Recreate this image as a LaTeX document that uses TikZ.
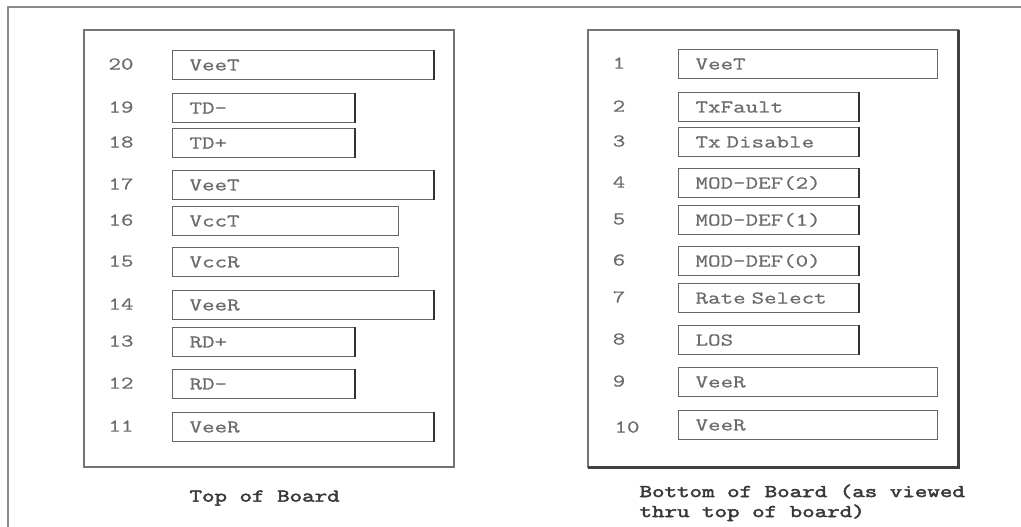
\documentclass[tikz,border=0pt]{standalone}
\usepackage{fontspec}
\setmonofont{Latin Modern Mono}[FakeStretch=1.35, FakeBold=0.7]
\newfontfamily\capfont{Latin Modern Mono}[FakeStretch=1.35, FakeBold=2.6]
\begin{document}
\begin{tikzpicture}[x=1pt,y=-1pt,
  txt/.style={font=\ttfamily\fontsize{18}{20}\selectfont, text=black!58},
  pinbox/.style={txt, draw=black!60, line width=1.1pt, anchor=north west,
    minimum height=29pt, inner ysep=0pt, inner xsep=17pt, align=left},
  pinlongL/.style={pinbox, text width=227pt},
  pinmedL/.style={pinbox, text width=148pt},
  pinvccL/.style={pinbox, text width=192pt},
  pinlongR/.style={pinbox, text width=225pt},
  pinmedR/.style={pinbox, text width=146pt},
  edge/.style={draw=black!80, line width=2.4pt},
  pinno/.style={txt},
  board/.style={draw=black!55, line width=1.4pt},
  boardshadow/.style={draw=black!75, line width=3pt},
  frame/.style={draw=black!45, line width=2pt},
  caption/.style={font=\capfont\fontsize{18}{20}\selectfont, text=black!78, align=left}
]
\useasboundingbox (0,0) rectangle (1021,527);
\fill[white] (0,0) rectangle (1021,527);
% outer frame
\coordinate (fbl) at (8,527);
\coordinate (ftl) at (8,7);
\coordinate (ftr) at (1021,7);
\draw[frame] (fbl) -- (ftl) -- (ftr);

% boards
\coordinate (lbtl) at (84,30);
\coordinate (lbbr) at (454,467);
\draw[board] (lbtl) rectangle (lbbr);
\coordinate (rbtl) at (588,30);
\coordinate (rbbr) at (958,467);
\coordinate (rbtr) at (958,30);
\coordinate (rbbl) at (588,467);
\draw[board] (rbtl) rectangle (rbbr);
\draw[boardshadow] (rbtr) -- (rbbr) -- (rbbl);

% left pins (top of board)
\node[pinlongL] (p20) at (172,50) {VeeT};
\node[pinmedL]  (p19) at (172,93) {TD-};
\node[pinmedL]  (p18) at (172,128) {TD+};
\node[pinlongL] (p17) at (172,170) {VeeT};
\node[pinvccL]  (p16) at (172,206) {VccT};
\node[pinvccL]  (p15) at (172,247) {VccR};
\node[pinlongL] (p14) at (172,290) {VeeR};
\node[pinmedL]  (p13) at (172,327) {RD+};
\node[pinmedL]  (p12) at (172,369) {RD-};
\node[pinlongL] (p11) at (172,412) {VeeR};
\foreach \p in {20,19,18,17,14,13,12,11}
  \draw[edge] (p\p.north east) -- (p\p.south east);

\foreach \p in {20,19,18,17,16,15,14,13,12,11}
  \node[pinno, anchor=center] (n\p) at ([xshift=-51pt,yshift=1pt]p\p.west) {\p};

% right pins (bottom of board)
\node[pinlongR] (p1)  at (678,49) {VeeT};
\node[pinmedR]  (p2)  at (678,92) {TxFault};
\node[pinmedR]  (p3)  at (678,127) {Tx Disable};
\node[pinmedR]  (p4)  at (678,168) {MOD-DEF(2)};
\node[pinmedR]  (p5)  at (678,205) {MOD-DEF(1)};
\node[pinmedR]  (p6)  at (678,246) {MOD-DEF(0)};
\node[pinmedR]  (p7)  at (678,283) {Rate Select};
\node[pinmedR]  (p8)  at (678,325) {LOS};
\node[pinlongR] (p9)  at (678,367) {VeeR};
\node[pinlongR] (p10) at (678,410) {VeeR};
\foreach \p in {2,3,4,5,6,7,8}
  \draw[edge] (p\p.north east) -- (p\p.south east);

\foreach \p in {1,2,3,4,5,6,7,8,9}
  \node[pinno, anchor=center] (n\p) at ([xshift=-59pt,yshift=1pt]p\p.west) {\p};
\node[pinno, anchor=center] (n10) at ([xshift=-51pt,yshift=-2pt]p10.west) {10};

% captions
\node[caption, anchor=west] (captop) at (186,498) {Top of Board};
\node[caption, anchor=north west] (capbot) at (636,481) {Bottom of Board (as viewed\\thru top of board)};
\end{tikzpicture}
\end{document}
